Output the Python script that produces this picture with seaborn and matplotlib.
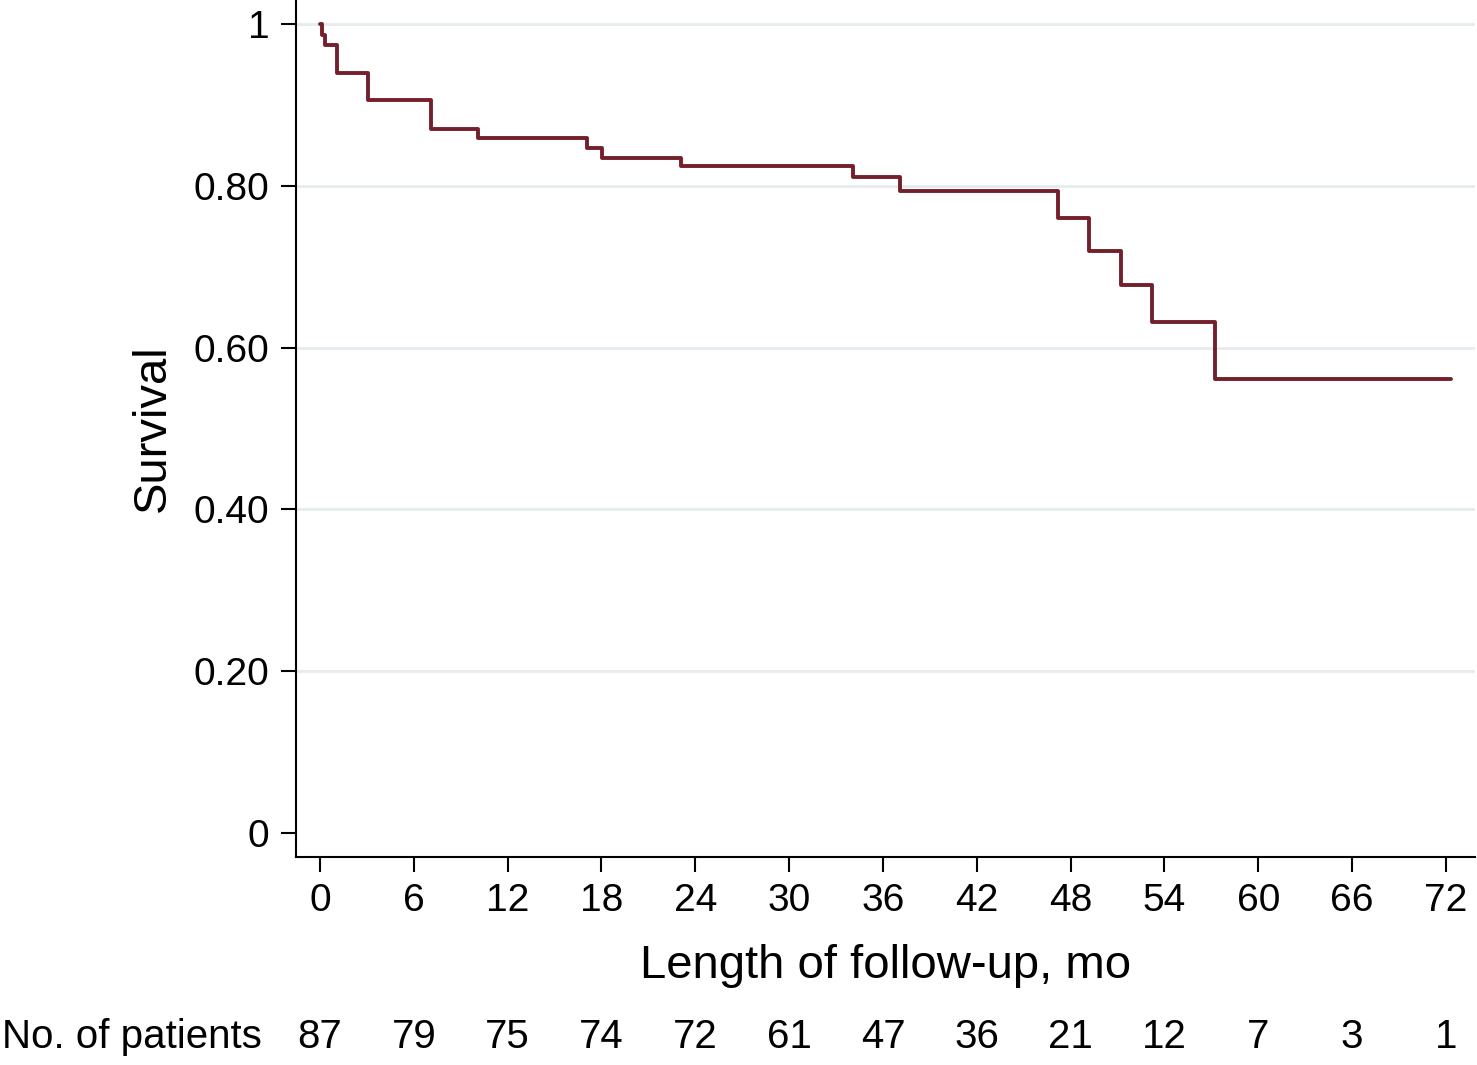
import matplotlib
matplotlib.use("Agg")
import matplotlib.pyplot as plt
import matplotlib.transforms as mtransforms
import seaborn as sns
import pandas as pd

# Kaplan-Meier step values
months = [0, 0.12, 0.35, 1.07, 3.1, 7.1, 10.1, 17.1, 18.05, 23.1, 34.1, 37.1,
          47.2, 49.2, 51.2, 53.2, 57.2, 72.3]
survival = [1.0, 0.986, 0.974, 0.940, 0.906, 0.870, 0.859, 0.847, 0.835, 0.824,
            0.811, 0.793, 0.760, 0.719, 0.678, 0.632, 0.561, 0.561]

tick_months = [0, 6, 12, 18, 24, 30, 36, 42, 48, 54, 60, 66, 72]
at_risk = [87, 79, 75, 74, 72, 61, 47, 36, 21, 12, 7, 3, 1]

y_ticks = [0, 0.2, 0.4, 0.6, 0.8, 1.0]
y_labels = ["0", "0.20", "0.40", "0.60", "0.80", "1"]

sns.set_style("white")
plt.rcParams['font.family'] = ['Liberation Sans', 'DejaVu Sans']
plt.rcParams['text.color'] = 'black'
plt.rcParams['axes.labelcolor'] = 'black'
plt.rcParams['xtick.color'] = 'black'
plt.rcParams['ytick.color'] = 'black'

df = pd.DataFrame({'Months': months, 'Survival': survival})

fig = plt.figure(figsize=(14.77, 10.65), dpi=100)
ax = fig.add_axes([0.2004, 0.1953, 0.7982, 0.8047])

# grid lines (no line at 0)
for yv in y_ticks[1:]:
    ax.axhline(yv, color='#e6ebef', lw=2, zorder=0)

sns.lineplot(data=df, x='Months', y='Survival', drawstyle='steps-post',
             color='#74202c', linewidth=2.8, ax=ax, zorder=3)

ax.set_xlim(-1.53, 73.85)
ax.set_ylim(-0.0297, 1.0297)
ax.set_xticks(tick_months)
ax.set_xticklabels([str(t) for t in tick_months], fontsize=28)
ax.set_yticks(y_ticks)
ax.set_yticklabels(y_labels, fontsize=28)
ax.tick_params(axis='both', direction='out', length=11, width=1.5, color='black',
               labelcolor='black', bottom=True, left=True, pad=8)

for side in ['top', 'right']:
    ax.spines[side].set_visible(False)
for side in ['left', 'bottom']:
    ax.spines[side].set_color('black')
    ax.spines[side].set_linewidth(1.5)

ax.set_xlabel('Length of follow-up, mo', fontsize=34, labelpad=18, color='black')
ax.set_ylabel('Survival', fontsize=34, labelpad=14, color='black')

# number at risk row
trans = mtransforms.blended_transform_factory(ax.transData, fig.transFigure)
for t, n in zip(tick_months, at_risk):
    ax.text(t, 0.026, str(n), transform=trans, ha='center', va='center',
            fontsize=29, color='black', clip_on=False)
fig.text(0.0015, 0.026, 'No. of patients', ha='left', va='center', fontsize=29,
         color='black')

fig.savefig('out.png', dpi=100)
